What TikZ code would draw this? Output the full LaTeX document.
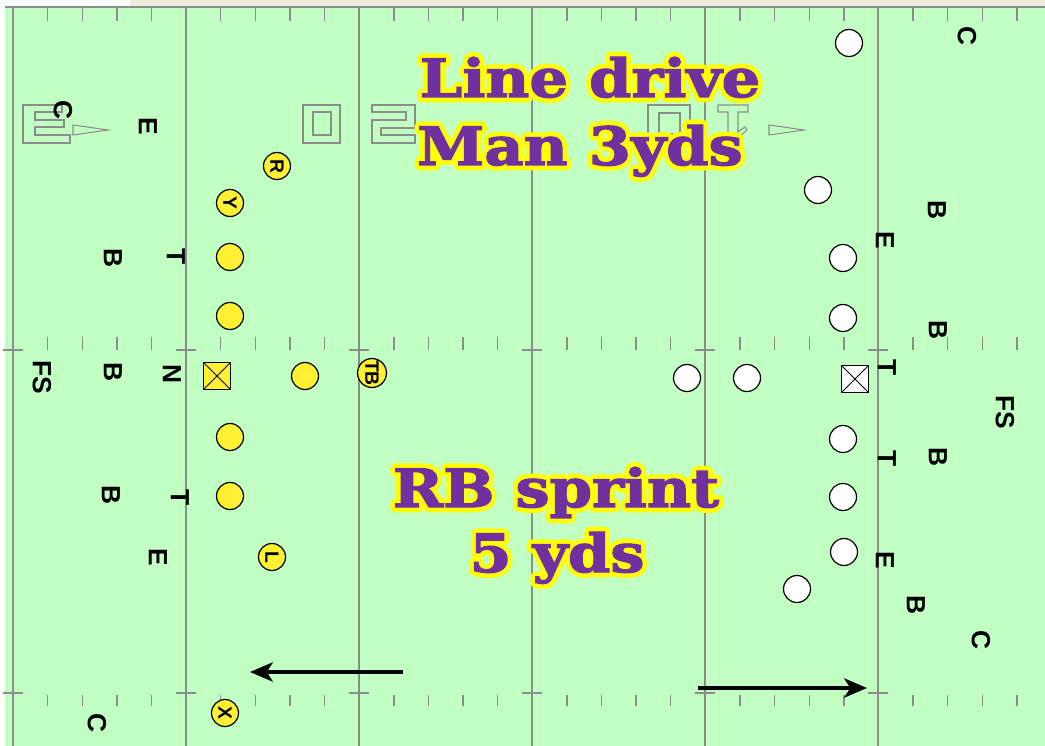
\documentclass[tikz,border=0pt]{standalone}
\usepackage{fontspec}
\usepackage{xcolor}
\usetikzlibrary{arrows.meta}
\newfontfamily\titlefont{DejaVu Serif}[FakeStretch=1.15,FakeBold=2.5]
\newfontfamily\rimfont{DejaVu Serif}[FakeStretch=1.15,FakeBold=20]
\newfontfamily\letterfont{Liberation Sans}
\definecolor{turf}{HTML}{C2FFC2}
\definecolor{chalk}{HTML}{8C8C8C}
\definecolor{paper}{HTML}{EFEBDC}
\definecolor{jersey}{HTML}{FFF033}
\definecolor{playpurple}{HTML}{7030A0}
\definecolor{glow}{HTML}{FFFF00}

% purple label with a yellow rim
\newcommand\glowlabel[3]{%
  \node[title,font=\rimfont\bfseries\fontsize{30}{36}\selectfont,text=glow] (#1rim) at (#2) {\special{pdf:literal direct 1 j 1 J}#3};
  \node[title] (#1) at (#2) {#3};}

\begin{document}
\begin{tikzpicture}[x=0.02cm,y=-0.02cm,
    yardline/.style={draw=chalk,line width=1.1pt},
    hash/.style={draw=chalk,line width=0.8pt},
    numeral/.style={draw=chalk,line width=0.6pt},
    man/.style={circle,draw,line width=0.7pt,minimum size=0.54cm,inner sep=0pt,
      font=\letterfont\bfseries\fontsize{11}{11}\selectfont,rotate=-90},
    us/.style={man,fill=jersey},
    them/.style={man,fill=white},
    snapper/.style={rectangle,draw,line width=0.7pt,minimum size=0.54cm,inner sep=0pt,
      path picture={\draw[line width=0.5pt] (path picture bounding box.south west) -- (path picture bounding box.north east)
        (path picture bounding box.north west) -- (path picture bounding box.south east);}},
    dline/.style={font=\letterfont\bfseries\fontsize{15}{15}\selectfont,rotate=-90,inner sep=0pt},
    title/.style={font=\titlefont\bfseries\fontsize{30}{36}\selectfont,text=playpurple,anchor=base},
    run/.style={line width=2pt,-{Stealth[length=13pt,width=11pt,inset=3.5pt]}}]
  \useasboundingbox (0,0) rectangle (1045,746);
  % field
  \fill[white] (0,0) rectangle (1045,746);
  \fill[paper] (130,0) rectangle (1045,6);
  \fill[turf] (5,7) rectangle (1045,746);
  \draw[hash] (5,7) -- (1045,7);
  \foreach \x in {13,186,359,532,705,878} {
    \draw[yardline] (\x,7) -- (\x,746);
    \draw[hash] (\x-10,350) -- (\x+10,350) (\x-10,693) -- (\x+10,693);}
  \foreach \k in {1,...,29} {
    \pgfmathsetmacro\x{13+34.62*\k}
    \draw[hash] (\x,8) -- (\x,21) (\x,337) -- (\x,350) (\x,695) -- (\x,706);}
  % yard numbers
  \draw[numeral] (23,105) -- (62,105) -- (62,112) -- (35,112) -- (35,120) -- (64,120) -- (64,127)
    -- (35,127) -- (35,135) -- (70,135) -- (70,143) -- (23,143) -- cycle;
  \draw[numeral] (73,125) -- (108,130) -- (73,135) -- cycle;
  \draw[numeral] (303,105) rectangle (340,143) (313,112) rectangle (331,135);
  \draw[numeral] (372,105) -- (415,105) -- (415,128) -- (381,128) -- (381,135) -- (415,135)
    -- (415,143) -- (372,143) -- (372,120) -- (406,120) -- (406,112) -- (372,112) -- cycle;
  \draw[numeral] (648,105) rectangle (690,141) (659,113) rectangle (680,134);
  \draw[numeral] (718,105) -- (748,105) -- (748,112) -- (738,112) -- (738,132) -- (745,127)
    -- (747,130) -- (738,138) -- (728,138) -- (728,112) -- (718,112) -- cycle;
  \draw[numeral] (769,125) -- (804,130) -- (769,135) -- cycle;
  % labels
  \glowlabel{drill}{590,97}{Line drive}
  \glowlabel{cover}{580,165}{Man 3yds}
  \glowlabel{sprint}{556,507}{RB sprint}
  \glowlabel{dist}{557,572}{5 yds}
  % yellow side
  \node[us] (r) at (277,166) {R};
  \node[us] (y) at (230,203) {Y};
  \node[us] (lt) at (230,257) {};
  \node[us] (lg) at (230,316) {};
  \node[snapper,fill=jersey] (c) at (217,376) {};
  \node[us] (rg) at (230,437) {};
  \node[us] (rt) at (230,496) {};
  \node[us] (qb) at (305,376) {};
  \node[us] (tb) at (372,373) {TB};
  \node[us] (l) at (272,557) {L};
  \node[us] (xr) at (225,713) {X};
  \node[dline] (dc1) at (63,110) {C};
  \node[dline] (de1) at (148,126) {E};
  \node[dline] (db1) at (113,258) {B};
  \node[dline] (dt1) at (176,257) {T};
  \node[dline] (dfs) at (42,377) {FS};
  \node[dline] (db2) at (113,372) {B};
  \node[dline] (dn) at (172,374) {N};
  \node[dline] (db3) at (111,495) {B};
  \node[dline] (dt2) at (180,498) {T};
  \node[dline] (de2) at (158,557) {E};
  \node[dline] (dc2) at (97,723) {C};
  % white side
  \node[them] (w1) at (849,43) {};
  \node[them] (w2) at (818,190) {};
  \node[them] (w3) at (843,258) {};
  \node[them] (w4) at (843,318) {};
  \node[snapper,fill=white] (w5) at (855,379) {};
  \node[them] (w6) at (843,439) {};
  \node[them] (w7) at (843,497) {};
  \node[them] (w8) at (844,552) {};
  \node[them] (w9) at (797,589) {};
  \node[them] (w10) at (687,378) {};
  \node[them] (w11) at (747,378) {};
  \node[dline] (kc1) at (967,36) {C};
  \node[dline] (kb1) at (937,210) {B};
  \node[dline] (ke1) at (885,240) {E};
  \node[dline] (kb2) at (938,330) {B};
  \node[dline] (kt1) at (887,368) {T};
  \node[dline] (kfs) at (1005,412) {FS};
  \node[dline] (kb3) at (938,457) {B};
  \node[dline] (kt2) at (887,459) {T};
  \node[dline] (ke2) at (885,560) {E};
  \node[dline] (kb4) at (916,605) {B};
  \node[dline] (kc2) at (981,640) {C};
  % runs
  \coordinate (pullL0) at (403,672);
  \coordinate (pullL1) at (250,672);
  \coordinate (pullR0) at (698,688);
  \coordinate (pullR1) at (867,688);
  \draw[run] (pullL0) -- (pullL1);
  \draw[run] (pullR0) -- (pullR1);
\end{tikzpicture}
\end{document}
